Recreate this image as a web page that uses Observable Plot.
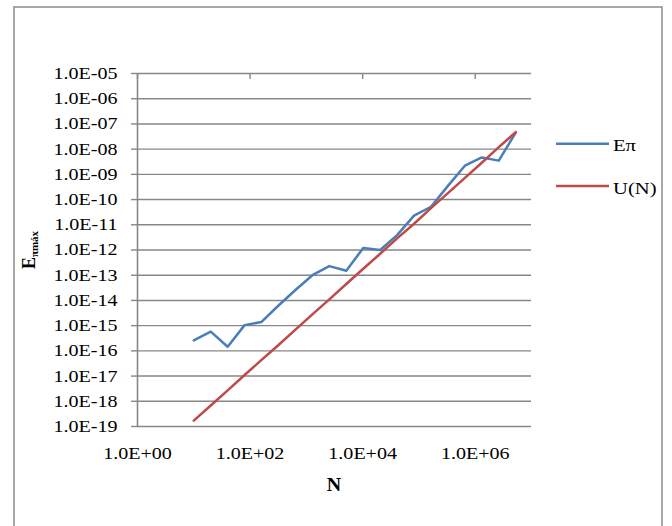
<!DOCTYPE html>
<html>
<head>
<meta charset="utf-8">
<script src="https://cdn.jsdelivr.net/npm/d3@7"></script>
<script src="https://cdn.jsdelivr.net/npm/@observablehq/plot@0.6"></script>
<style>
  body { margin: 0; background: #fff; }
</style>
</head>
<body>
<div id="chart"></div>
<script>
// ---- data ----
const N = [10, 20, 40, 80, 160, 320, 640, 1280, 2560, 5120, 10240, 20480, 40960,
  81920, 163840, 327680, 655360, 1310720, 2621440, 5242880];
const Epi = [2.6e-16, 5.8e-16, 1.45e-16, 1.05e-15, 1.4e-15, 6.3e-15, 2.6e-14, 1.0e-13,
  2.3e-13, 1.5e-13, 1.2e-12, 1.0e-12, 3.9e-12, 2.3e-11, 5.2e-11, 3.5e-10, 2.2e-9,
  4.7e-9, 3.5e-9, 4.5e-8];
const UN = [1.7e-19, 6.8e-19, 2.7e-18, 1.1e-17, 4.4e-17, 1.7e-16, 7.0e-16, 2.8e-15,
  1.1e-14, 4.5e-14, 1.8e-13, 7.1e-13, 2.9e-12, 1.1e-11, 4.6e-11, 1.8e-10, 7.3e-10,
  2.9e-9, 1.2e-8, 4.7e-8];
const seriesNames = ["Eπ", "U(N)"];
const xTicks = [1, 1e2, 1e4, 1e6];
const yTicks = [1e-19, 1e-18, 1e-17, 1e-16, 1e-15, 1e-14, 1e-13, 1e-12, 1e-11, 1e-10,
  1e-9, 1e-8, 1e-7, 1e-6, 1e-5];
const xTitle = "N";
const yTitleMain = "E";
const yTitleSub = "πmáx";

// ---- styling ----
const colors = ["#4a7ebb", "#be4b48"];
const grid = "#878787";
const W = 672, H = 526, mL = 137, mR = 141, mT = 73, mB = 100;
const stretch = 1.18;

const rows = N.map((n, i) => ({N: n, E: Epi[i], U: UN[i]}));
const fmt = d => {
  const e = Math.round(Math.log10(d));
  return "1.0E" + (e < 0 ? "-" : "+") + String(Math.abs(e)).padStart(2, "0");
};

const chart = Plot.plot({
  width: W, height: H,
  marginLeft: mL, marginRight: mR, marginTop: mT, marginBottom: mB,
  style: {
    fontFamily: "'Liberation Serif', 'Times New Roman', serif",
    fontSize: "17px", color: "#000", background: "transparent"
  },
  x: {type: "log", domain: [1, 1e7]},
  y: {type: "log", domain: [1e-19, 1e-5]},
  marks: [
    Plot.ruleY(yTicks, {stroke: grid, strokeWidth: 1.4}),
    Plot.ruleX([1], {stroke: grid, strokeWidth: 1.6}),
    Plot.ruleX(xTicks, {stroke: grid, strokeWidth: 1.4, insetBottom: H - mT - mB - 6}),
    Plot.axisY(yTicks, {anchor: "left", tickSize: 6, tickPadding: 14, tickFormat: fmt,
      stroke: grid, strokeWidth: 1.4, fill: "#000", label: null, fontSize: 17}),
    Plot.axisX(xTicks, {anchor: "bottom", tickSize: 0, tickPadding: 20, tickFormat: fmt,
      fill: "#000", label: null, fontSize: 17}),
    Plot.line(rows, {x: "N", y: "E", stroke: colors[0], strokeWidth: 2.5}),
    Plot.line(rows, {x: "N", y: "U", stroke: colors[1], strokeWidth: 2.5})
  ]
});

const svg = d3.select(chart);
// horizontally stretched glyphs, as in the reference picture
svg.selectAll("g[aria-label$='tick label'] text").each(function () {
  const t = d3.select(this);
  const tr = t.attr("transform");
  if (tr) t.attr("transform", tr + ` scale(${stretch},1)`);
});

// outer chart-area border
svg.insert("rect", ":first-child")
  .attr("x", 14).attr("y", 7).attr("width", 648).attr("height", 540)
  .attr("fill", "none").attr("stroke", "#8c8c8c").attr("stroke-width", 1.5);

// y title with subscript
const yt = svg.append("text")
  .attr("transform", "translate(35,250) rotate(-90)")
  .attr("text-anchor", "middle").attr("font-weight", "bold")
  .attr("font-size", 18).attr("fill", "#000");
yt.append("tspan").text(yTitleMain);
yt.append("tspan").attr("font-size", 11).attr("dy", 3).text(yTitleSub);

// x title
svg.append("text")
  .attr("transform", `translate(${(mL + W - mR) / 2},491) scale(1.05,1)`)
  .attr("text-anchor", "middle").attr("font-weight", "bold")
  .attr("font-size", 19).attr("fill", "#000").text(xTitle);

// legend
const lg = svg.append("g");
seriesNames.forEach((name, i) => {
  const y = 143.7 + i * 42.3;
  lg.append("line").attr("x1", 556).attr("x2", 609).attr("y1", y).attr("y2", y)
    .attr("stroke", colors[i]).attr("stroke-width", 2.5);
  lg.append("text").attr("transform", `translate(613,${y + 7.5}) scale(${stretch},1)`)
    .attr("text-anchor", "start")
    .attr("font-size", 17.5).attr("fill", "#000").text(name);
});

document.getElementById("chart").appendChild(chart);
</script>
</body>
</html>
